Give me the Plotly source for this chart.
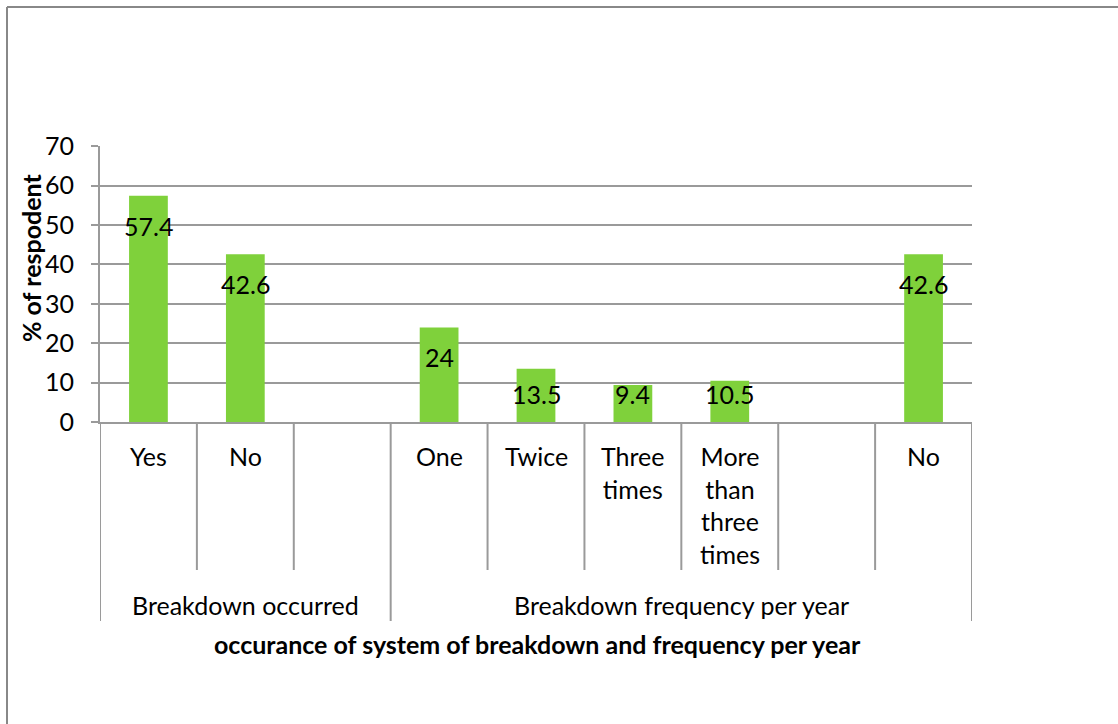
import plotly.graph_objects as go

# Survey results: occurrence of system breakdown and its yearly frequency
categories = ["Yes", "No", "", "One", "Twice", "Three<br>times",
              "More<br>than<br>three<br>times", "", "No"]
values = [57.4, 42.6, None, 24, 13.5, 9.4, 10.5, None, 42.6]
value_labels = ["57.4", "42.6", "", "24", "13.5", "9.4", "10.5", "", "42.6"]
groups = ["Breakdown occurred", "Breakdown frequency per year"]
group_spans = [(0, 2), (3, 8)]  # inclusive category index ranges
y_ticks = [0, 10, 20, 30, 40, 50, 60, 70]

W, H = 1118, 724
L, R, T, B = 100, 972, 146, 422  # plot area in pixels
FONT = "Lato, Carlito, Calibri, sans-serif"
GREEN = "#7fd13b"
GRID = "#9a9a9a"
FS = 25


def px_x(px):
    return (px - L) / (R - L)


def px_y(py):
    return (B - py) / (B - T)


xs = list(range(len(categories)))

fig = go.Figure()
fig.add_trace(go.Bar(
    x=xs, y=values, width=0.4,
    marker=dict(color=GREEN, line=dict(width=0)),
    hoverinfo="skip",
))

annotations = []
# value labels inside the bar tops
for x, v, lab in zip(xs, values, value_labels):
    if v is None:
        continue
    ly = max(v - 7.6, 7.0)
    annotations.append(dict(
        x=x, y=ly, xref="x", yref="y", text=lab,
        showarrow=False, font=dict(family=FONT, size=FS, color="black"),
        xanchor="center", yanchor="middle",
    ))

# category labels
for x, c in zip(xs, categories):
    if not c:
        continue
    annotations.append(dict(
        x=x, y=px_y(439), xref="x", yref="paper", text=c, showarrow=False,
        font=dict(family=FONT, size=FS, color="black"),
        xanchor="center", yanchor="top", align="center",
    ))

# group labels
for g, (a, b) in zip(groups, group_spans):
    annotations.append(dict(
        x=(a + b) / 2, y=px_y(605), xref="x", yref="paper", text=g,
        showarrow=False, font=dict(family=FONT, size=FS, color="black"),
        xanchor="center", yanchor="middle",
    ))

# axis titles
annotations.append(dict(
    x=px_x(537), y=px_y(644), xref="paper", yref="paper",
    text="<b>occurance of system of breakdown and frequency per year</b>",
    showarrow=False, font=dict(family=FONT, size=FS, color="black"),
    xanchor="center", yanchor="middle",
))
annotations.append(dict(
    x=px_x(31), y=px_y(258), xref="paper", yref="paper",
    text="<b>% of respodent</b>", textangle=-90,
    showarrow=False, font=dict(family=FONT, size=FS, color="black"),
    xanchor="center", yanchor="middle",
))

shapes = []
# dividers between categories and between groups
group_edges = {group_spans[0][0] - 0.5, group_spans[0][1] + 0.5, group_spans[1][1] + 0.5}
for i in range(len(categories) + 1):
    xe = i - 0.5
    bottom = 621 if xe in group_edges else 570
    shapes.append(dict(
        type="line", xref="x", yref="paper", x0=xe, x1=xe,
        y0=0, y1=px_y(bottom), line=dict(color=GRID, width=2),
    ))

# outer frame
shapes.append(dict(type="line", xref="paper", yref="paper",
                   x0=px_x(7), x1=px_x(1130), y0=px_y(7), y1=px_y(7),
                   line=dict(color="#888888", width=2)))
shapes.append(dict(type="line", xref="paper", yref="paper",
                   x0=px_x(7), x1=px_x(7), y0=px_y(7), y1=px_y(740),
                   line=dict(color="#888888", width=2)))

fig.update_layout(
    width=W, height=H,
    margin=dict(l=L, r=W - R, t=T, b=H - B, pad=0),
    paper_bgcolor="white", plot_bgcolor="white",
    showlegend=False,
    bargap=0.6,
    font=dict(family=FONT, size=FS, color="black"),
    xaxis=dict(range=[-0.5, len(categories) - 0.5], showticklabels=False,
               showgrid=False, zeroline=False, showline=True,
               linecolor=GRID, linewidth=2, ticks="", fixedrange=True),
    yaxis=dict(range=[0, 70.05], tickvals=y_ticks, showgrid=True,
               gridcolor=GRID, gridwidth=2, zeroline=False, showline=True,
               linecolor=GRID, linewidth=2, ticks="outside", ticklen=7,
               tickcolor=GRID, tickwidth=2, ticklabelstandoff=12,
               tickfont=dict(family=FONT, size=FS, color="black")),
    annotations=annotations,
    shapes=shapes,
)

fig.write_html("out.html")
